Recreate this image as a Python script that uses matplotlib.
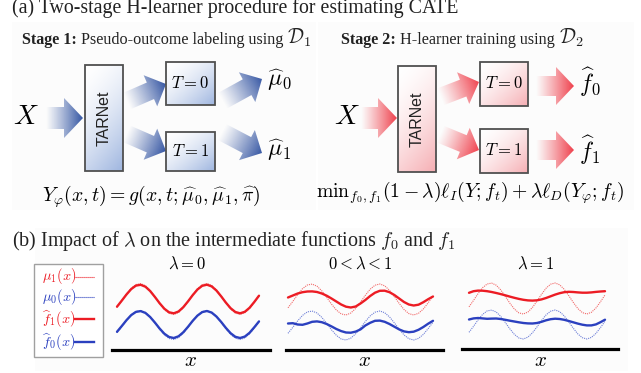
import numpy as np
import matplotlib
matplotlib.use('Agg')
import matplotlib.pyplot as plt
from matplotlib.patches import Polygon, Rectangle
from matplotlib.colors import to_rgb

plt.rcParams['mathtext.fontset'] = 'cm'
plt.rcParams['font.family'] = ['Liberation Serif', 'DejaVu Serif']

# ---------------- data (heights) ----------------
u = np.linspace(0, 1, 31)
mu1 = [42.2, 48.6, 55.4, 61.3, 65.0, 65.9, 63.8, 59.1, 52.7, 45.9, 40.0, 36.1, 35.0, 37.0, 41.6, 47.9,
       54.7, 60.8, 64.8, 66.0, 64.2, 59.7, 53.4, 46.6, 40.5, 36.4, 35.0, 36.7, 41.0, 47.2, 54.1]
mu0 = [16.7, 22.7, 29.1, 34.6, 38.1, 38.9, 37.0, 32.6, 26.6, 20.2, 14.7, 11.0, 10.0, 11.9, 16.2, 22.1,
       28.5, 34.1, 37.8, 39.0, 37.3, 33.1, 27.2, 20.8, 15.1, 11.3, 10.0, 11.6, 15.6, 21.4, 27.8]
f1_lam0 = [42.8, 48.8, 55.0, 60.4, 63.9, 64.7, 62.8, 58.5, 52.6, 46.3, 40.8, 37.2, 36.2, 38.0, 42.3, 48.1,
           54.4, 60.0, 63.7, 64.8, 63.1, 59.0, 53.2, 46.9, 41.3, 37.5, 36.2, 37.7, 41.7, 47.5, 53.8]
f0_lam0 = [17.7, 23.4, 29.3, 34.4, 37.6, 38.4, 36.6, 32.5, 27.0, 21.0, 15.8, 12.5, 11.5, 13.2, 17.2, 22.7,
           28.7, 33.9, 37.4, 38.5, 36.9, 33.0, 27.6, 21.6, 16.3, 12.7, 11.5, 12.9, 16.7, 22.2, 28.1]
f1_mid = [52.5, 54.5, 56.5, 57.8, 58.5, 58.6, 58.0, 56.5, 54.3, 51.5, 48.5, 45.5, 43.3, 42.5, 43.5, 46.5,
          50.0, 54.0, 57.3, 59.2, 59.3, 57.8, 55.0, 51.5, 48.0, 45.5, 44.5, 45.3, 47.8, 50.8, 53.5]
f0_mid = [26.5, 26.8, 25.5, 25.2, 26.5, 28.2, 28.6, 27.8, 26.0, 23.6, 21.0, 18.9, 17.5, 17.3, 18.4, 20.6,
          24.5, 27.2, 29.2, 29.4, 28.2, 26.0, 23.3, 20.6, 18.6, 17.8, 18.3, 20.2, 23.0, 26.3, 29.2]
f1_lam1 = [56.2, 57.8, 58.4, 58.3, 57.8, 57.0, 56.0, 54.9, 53.7, 52.4, 51.2, 50.1, 49.2, 48.6, 48.4, 48.7,
           49.6, 51.0, 52.7, 54.4, 55.8, 56.8, 57.2, 57.0, 56.6, 56.3, 56.3, 56.6, 57.1, 57.5, 57.8]
f0_lam1 = [29.5, 30.6, 31.0, 30.6, 30.2, 30.4, 30.5, 30.0, 29.2, 28.3, 27.5, 26.7, 26.0, 25.6, 25.5, 26.0,
           27.2, 28.7, 29.8, 30.3, 30.0, 29.2, 28.0, 26.7, 25.4, 24.3, 23.6, 23.6, 24.6, 26.8, 29.3]
panel_titles = [r'$\lambda = 0$', r'$0 < \lambda < 1$', r'$\lambda = 1$']
legend_labels = [r'$\mu_1(x)$', r'$\mu_0(x)$', r'$\widehat{f}_1(x)$', r'$\widehat{f}_0(x)$']

RED = '#ec1c24'
BLUE = '#2b40bf'
RED_D = '#f26a6a'
BLUE_D = '#6f80d8'

W, H = 641, 373
fig = plt.figure(figsize=(W / 100, H / 100), dpi=100)
ax = fig.add_axes([0, 0, 1, 1])
ax.set_xlim(0, W)
ax.set_ylim(H, 0)
ax.axis('off')
renderer = fig.canvas.get_renderer()

# faint backgrounds
for (x0, y0, x1, y1) in [(12, 22, 316, 210), (318, 22, 634, 210), (35, 228, 628, 371)]:
    ax.add_patch(Rectangle((x0, y0), x1 - x0, y1 - y0, fc='#fcfcfc', ec='none', zorder=0))


def grad_arrow(tail, tip, ws, wh, hl, color):
    tail = np.array(tail, float)
    tip = np.array(tip, float)
    d = tip - tail
    L = np.hypot(*d)
    e = d / L
    n = np.array([-e[1], e[0]])
    b = tail + e * (L - hl)
    pts = [tail + n * ws, b + n * ws, b + n * wh, tip, b - n * wh, b - n * ws, tail - n * ws]
    poly = Polygon(pts, closed=True, fc='none', ec='none', zorder=2)
    ax.add_patch(poly)
    pts = np.array(pts)
    xmin, ymin = pts.min(axis=0) - 1
    xmax, ymax = pts.max(axis=0) + 1
    xs = np.linspace(xmin, xmax, int((xmax - xmin) * 3))
    ys = np.linspace(ymin, ymax, int((ymax - ymin) * 3))
    X, Y = np.meshgrid(xs, ys)
    t = ((X - tail[0]) * e[0] + (Y - tail[1]) * e[1]) / L
    t = np.clip(t, 0, 1)
    rgba = np.zeros(X.shape + (4,))
    rgba[..., :3] = to_rgb(color)
    rgba[..., 3] = t ** 1.1
    im = ax.imshow(rgba, extent=(xmin, xmax, ymax, ymin), origin='upper',
                   interpolation='bilinear', zorder=2, aspect='auto')
    im.set_clip_path(poly)


def grad_box(x0, y0, w, h, fill, wx=0.5, wy=0.5, strength=0.85, text=None, **tkw):
    xs = np.linspace(0, 1, 60)
    ys = np.linspace(0, 1, 60)
    X, Y = np.meshgrid(xs, ys)
    t = np.clip(wx * X + wy * Y, 0, 1) ** 1.6 * strength
    c = np.array(to_rgb(fill))
    rgba = np.ones(X.shape + (4,))
    rgba[..., :3] = (1 - t[..., None]) + t[..., None] * c
    ax.imshow(rgba, extent=(x0, x0 + w, y0 + h, y0), origin='upper',
              interpolation='bilinear', zorder=3, aspect='auto')
    ax.add_patch(Rectangle((x0, y0), w, h, fc='none', ec='#505050', lw=1.3, zorder=4))
    if text is not None:
        ax.text(x0 + w / 2, y0 + h / 2, text, ha='center', va='center', zorder=5, **tkw)


def runs(x, y, parts, **common):
    for s, kw in parts:
        kk = dict(common)
        kk.update(kw)
        t = ax.text(x, y, s, va='baseline', ha='left', **kk)
        bb = t.get_window_extent(renderer=renderer)
        x += bb.width + 4


# ---------------- titles ----------------
ax.text(12, 13.5, '(a) Two-stage H-learner procedure for estimating CATE', fontsize=14.3,
        va='baseline', ha='left', color='#222222')
runs(22, 44, [('Stage 1:', dict(fontweight='bold')),
              ('Pseudo-outcome labeling using', {}),
              (r'$\mathcal{D}_1$', dict(fontsize=14.5))], fontsize=11.6, color='#222222')
runs(341, 44, [('Stage 2:', dict(fontweight='bold')),
               ('H-learner training using', {}),
               (r'$\mathcal{D}_2$', dict(fontsize=14.5))], fontsize=11.6, color='#222222')

# ---------------- stage 1 diagram (blue) ----------------
BL = '#3556a3'
grad_arrow((46, 118), (83, 118), 11, 20, 19, BL)
grad_arrow((127, 101), (166, 84), 9, 17, 17, BL)
grad_arrow((127, 134), (166, 151), 9, 17, 17, BL)
grad_arrow((222, 101), (262, 79), 9, 17, 17, BL)
grad_arrow((222, 132), (262, 153), 9, 17, 17, BL)
grad_box(85, 65, 38, 106, '#8ea9da', wx=0.3, wy=0.7, text='TARNet', rotation=90,
         fontsize=11.5, family='Liberation Sans', color='#222222')
grad_box(166, 62, 49, 43, '#8ea9da', text=r'$T=0$', fontsize=12)
grad_box(166, 132, 49, 39, '#8ea9da', text=r'$T=1$', fontsize=12)
ax.text(26, 118, r'$X$', fontsize=20, ha='center', va='center')
ax.text(279, 80, r'$\widehat{\mu}_0$', fontsize=17, ha='center', va='center')
ax.text(279, 150, r'$\widehat{\mu}_1$', fontsize=17, ha='center', va='center')
ax.text(151, 197, r'$Y_\varphi(x,t) = g(x,t;\widehat{\mu}_0,\widehat{\mu}_1,\widehat{\pi})$',
        fontsize=14.2, ha='center', va='center')

# ---------------- stage 2 diagram (red) ----------------
RD = '#f0404c'
grad_arrow((361, 118), (397, 118), 11, 20, 19, RD)
grad_arrow((440, 97), (479, 82), 9, 17, 17, RD)
grad_arrow((440, 134), (479, 150), 9, 17, 17, RD)
grad_arrow((536, 86), (574, 86), 10, 19, 18, RD)
grad_arrow((536, 150), (574, 150), 10, 19, 18, RD)
grad_box(398, 66, 38, 106, '#f4a0a6', wx=0.3, wy=0.7, text='TARNet', rotation=90,
         fontsize=11.5, family='Liberation Sans', color='#222222')
grad_box(480, 62, 48, 44, '#f4a0a6', text=r'$T=0$', fontsize=12)
grad_box(480, 129, 48, 44, '#f4a0a6', text=r'$T=1$', fontsize=12)
ax.text(347, 118, r'$X$', fontsize=20, ha='center', va='center')
ax.text(590, 82, r'$\widehat{f}_0$', fontsize=17, ha='center', va='center')
ax.text(590, 150, r'$\widehat{f}_1$', fontsize=17, ha='center', va='center')
ax.text(470, 193, r'$\mathrm{min}_{f_0,f_1}(1-\lambda)\ell_I(Y;f_t) + \lambda\ell_D(Y_\varphi;f_t)$',
        fontsize=14.2, ha='center', va='center')

# ---------------- (b) ----------------
ax.text(12, 246, r'(b) Impact of $\lambda$ on the intermediate functions $f_0$ and $f_1$',
        fontsize=14.5, va='baseline', ha='left', color='#222222')

# legend
ax.add_patch(Rectangle((34, 264), 69, 93, fc='white', ec='#a0a0a0', lw=1.0, zorder=3))
leg_y = [276.5, 297, 319, 342]
leg_c = [RED, BLUE, RED, BLUE]
leg_dotted = [True, True, False, False]
for lab, yy, cc, dt in zip(legend_labels, leg_y, leg_c, leg_dotted):
    ax.text(42, yy, lab, color=cc, fontsize=10.3, ha='left', va='center', zorder=4)
    if dt:
        ax.plot([75, 94], [yy, yy], color=cc, lw=0.8, ls=(0, (1, 0.8)), zorder=4)
    else:
        ax.plot([75, 94], [yy, yy], color=cc, lw=1.7, zorder=4)

panels = [((112, 270), (117, 259), 349.5, f1_lam0, f0_lam0),
          ((286, 443), (288, 433), 350.0, f1_mid, f0_mid),
          ((462, 618), (469, 605), 349.0, f1_lam1, f0_lam1)]
top = 268
for (bx, cx, base, f1, f0), title in zip(panels, panel_titles):
    pax = fig.add_axes([bx[0] / W, 1 - base / H, (bx[1] - bx[0]) / W, (base - top) / H])
    span = cx[1] - cx[0]
    pax.set_xlim((bx[0] - cx[0]) / span, (bx[1] - cx[0]) / span)
    pax.set_ylim(0, base - top)
    pax.patch.set_alpha(0)
    for s in ['top', 'left', 'right']:
        pax.spines[s].set_visible(False)
    pax.spines['bottom'].set_linewidth(2.3)
    pax.spines['bottom'].set_color('black')
    pax.set_xticks([])
    pax.set_yticks([])
    pax.plot(u, mu1, color=RED_D, lw=0.8, ls=(0, (1, 0.9)))
    pax.plot(u, mu0, color=BLUE_D, lw=0.8, ls=(0, (1, 0.9)))
    pax.plot(u, f1, color=RED, lw=1.7, solid_capstyle='round')
    pax.plot(u, f0, color=BLUE, lw=1.7, solid_capstyle='round')
    xc = (bx[0] + bx[1]) / 2
    ax.text(xc - 4, 265, title, fontsize=12, ha='center', va='center')
    ax.text(xc, 361, r'$x$', fontsize=15, ha='center', va='center')

ax.set_xlim(0, W)
ax.set_ylim(H, 0)
fig.savefig('out.png', dpi=100)
